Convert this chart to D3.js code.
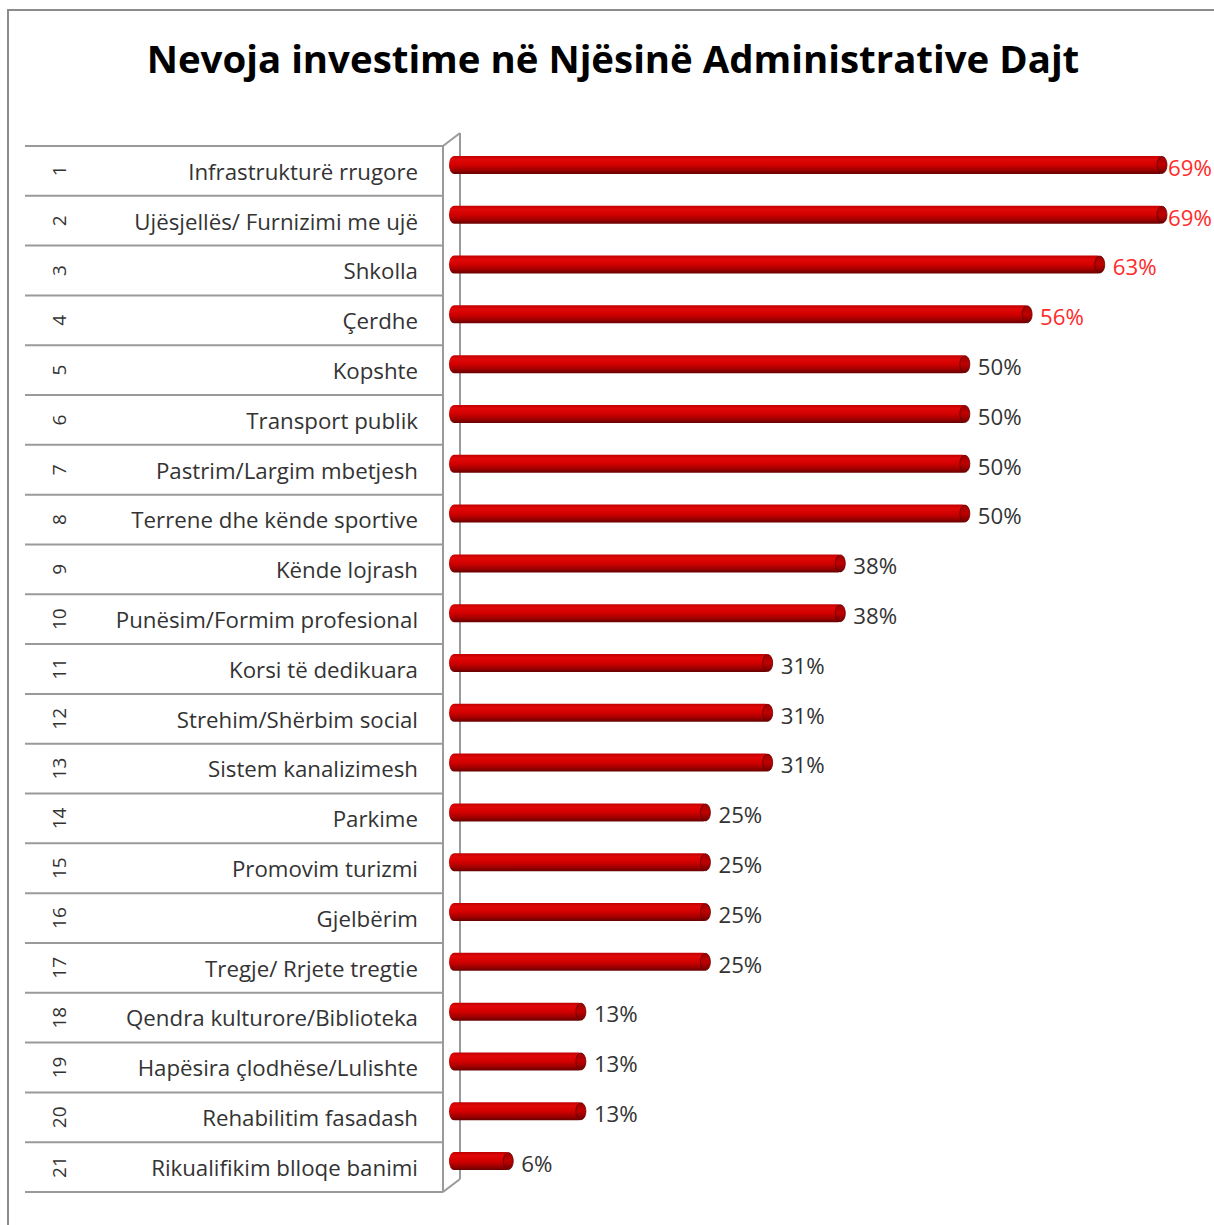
<!DOCTYPE html>
<html><head><meta charset="utf-8">
<script src="https://cdn.jsdelivr.net/npm/d3@7/dist/d3.min.js"></script>
<style>body{margin:0;background:#fff}svg{display:block}</style>
</head><body>
<script>
const categories = ["Infrastrukturë rrugore","Ujësjellës/ Furnizimi me ujë","Shkolla","Çerdhe","Kopshte","Transport publik","Pastrim/Largim mbetjesh","Terrene dhe kënde sportive","Kënde lojrash","Punësim/Formim profesional","Korsi të dedikuara","Strehim/Shërbim social","Sistem kanalizimesh","Parkime","Promovim turizmi","Gjelbërim","Tregje/ Rrjete tregtie","Qendra kulturore/Biblioteka","Hapësira çlodhëse/Lulishte","Rehabilitim fasadash","Rikualifikim blloqe banimi"];
const values = [69,69,63,56,50,50,50,50,38,38,31,31,31,25,25,25,25,13,13,13,6];
const valueLabels = values.map(v => v + "%");
const title = "Nevoja investime në Njësinë Administrative Dajt";

const W = 1214, H = 1225;
const svg = d3.select("body").append("svg").attr("width", W).attr("height", H);
const defs = svg.append("defs");
const grad = defs.append("linearGradient").attr("id","cyl").attr("x1",0).attr("y1",0).attr("x2",0).attr("y2",1);
[["0%","#c00000"],["20%","#e00808"],["50%","#d20000"],["78%","#a00000"],["100%","#680000"]].forEach(s=>grad.append("stop").attr("offset",s[0]).attr("stop-color",s[1]));
const capGrad = defs.append("linearGradient").attr("id","cap").attr("x1",0).attr("y1",0).attr("x2",0).attr("y2",1);
[["0%","#a00000"],["50%","#c00000"],["100%","#700000"]].forEach(s=>capGrad.append("stop").attr("offset",s[0]).attr("stop-color",s[1]));

svg.append("rect").attr("x",8).attr("y",10).attr("width",1400).attr("height",1400)
  .attr("fill","none").attr("stroke","#8c8c8c").attr("stroke-width",2);

const font = "'Open Sans', sans-serif";
const t = svg.append("text").attr("x",613).attr("y",73).attr("text-anchor","middle")
  .attr("font-family",font).attr("font-weight","bold")
  .attr("font-size",36).attr("fill","#000").text(title);
// fit the title to the reference width
const tw = t.node().getComputedTextLength();
t.attr("font-size", 36 * 933 / tw);

const yTop = 146, yBottom = 1192, depth = 17, depthY = 13;
const y = d3.scaleBand().domain(d3.range(categories.length)).range([yTop, yBottom]);
const x = d3.scaleLinear().domain([0, 69]).range([450, 1166]);

const g = svg.append("g");
const lineColor = "#9a9a9a";
g.append("line").attr("x1",443+depth).attr("x2",443+depth).attr("y1",yTop-depthY).attr("y2",yBottom-depthY)
  .attr("stroke",lineColor).attr("stroke-width",2);
g.append("line").attr("x1",443).attr("x2",443+depth).attr("y1",yTop).attr("y2",yTop-depthY).attr("stroke",lineColor).attr("stroke-width",2);
g.append("line").attr("x1",443).attr("x2",443+depth).attr("y1",yBottom).attr("y2",yBottom-depthY).attr("stroke",lineColor).attr("stroke-width",2);
const edges = d3.range(categories.length+1).map(i => i < categories.length ? y(i) : yBottom);
g.selectAll("line.row").data(edges).join("line").attr("class","row")
  .attr("x1",25).attr("x2",443).attr("y1",d=>d).attr("y2",d=>d)
  .attr("stroke",lineColor).attr("stroke-width",2);
g.append("line").attr("x1",443).attr("x2",443).attr("y1",yTop).attr("y2",yBottom).attr("stroke",lineColor).attr("stroke-width",2);

const colorFor = i => i < 4 ? "#ff2a2a" : "#333";
g.selectAll("text.num").data(categories).join("text").attr("class","num")
  .attr("transform",(d,i)=>`translate(59,${y(i)+y.bandwidth()/2}) rotate(-90)`)
  .attr("text-anchor","middle").attr("dy","0.35em")
  .attr("font-family",font).attr("font-size",19).attr("fill","#333")
  .text((d,i)=>i+1);
const cats = g.selectAll("text.cat").data(categories).join("text").attr("class","cat")
  .attr("x",418).attr("y",(d,i)=>y(i)+y.bandwidth()/2+1).attr("dy","0.35em")
  .attr("text-anchor","end").attr("font-family",font).attr("font-size",19.5).attr("fill","#333")
  .text(d=>d);
const cw = cats.node().getComputedTextLength();
cats.attr("font-size", 19.5 * 230 / cw);

const bh = 18, r = 5;
const bars = g.selectAll("g.bar").data(values).join("g").attr("class","bar")
  .attr("transform",(d,i)=>`translate(0,${y(i)+y.bandwidth()/2-6-bh/2})`);
bars.append("rect").attr("x",x(0)-1).attr("y",0).attr("width",d=>x(d)-x(0)).attr("height",bh)
  .attr("rx",r).attr("ry",bh/2).attr("fill","url(#cyl)");
bars.append("ellipse").attr("cx",d=>x(d)-r+1).attr("cy",bh/2).attr("rx",r).attr("ry",bh/2-0.5)
  .attr("fill","url(#cap)").attr("stroke","#600000").attr("stroke-width",0.8);

g.selectAll("text.val").data(values).join("text").attr("class","val")
  .attr("x",d=>x(d)+(d>=69?2:9)).attr("y",(d,i)=>y(i)+y.bandwidth()/2-3).attr("dy","0.35em")
  .attr("font-family",font).attr("font-size",cats.attr("font-size")).attr("fill",(d,i)=>colorFor(i))
  .text((d,i)=>valueLabels[i]);
</script>
</body></html>
